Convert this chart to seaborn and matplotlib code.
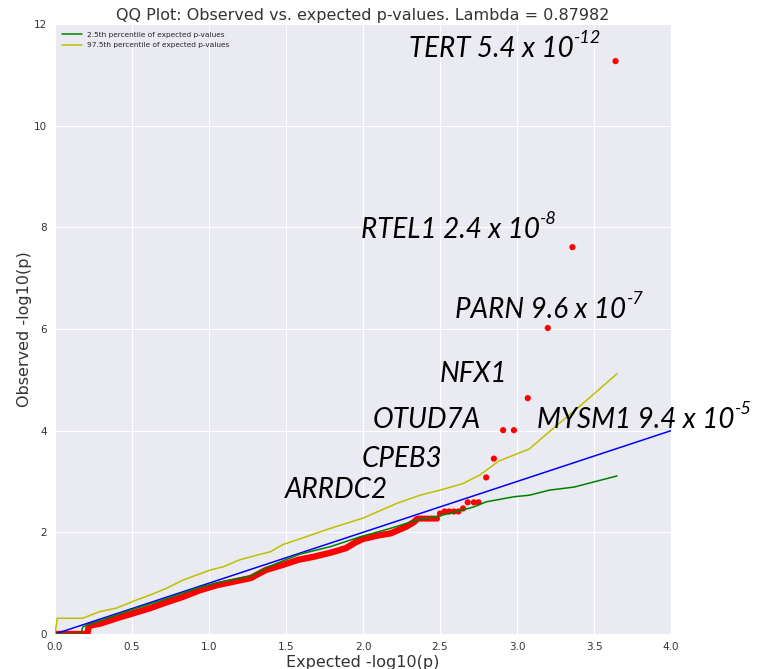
import matplotlib
matplotlib.use("Agg")
import matplotlib.pyplot as plt
import seaborn as sns
import pandas as pd

# ---- data ----
diag_x = [0.0, 4.0]
diag_y = [0.0, 4.0]

bulk_expected = [0.00, 0.21, 0.22, 0.30, 0.40, 0.50, 0.62, 0.72, 0.83, 0.94, 1.05, 1.16,
                 1.27, 1.37, 1.48, 1.58, 1.68, 1.79, 1.89, 1.95, 2.00, 2.10, 2.18, 2.28,
                 2.33, 2.35]
bulk_observed = [0.00, 0.00, 0.16, 0.21, 0.31, 0.40, 0.51, 0.62, 0.73, 0.86, 0.96, 1.03,
                 1.10, 1.26, 1.36, 1.46, 1.52, 1.60, 1.69, 1.80, 1.87, 1.94, 1.98, 2.11,
                 2.20, 2.26]

tail_expected = [2.36, 2.38, 2.40, 2.42, 2.44, 2.46, 2.48, 2.50, 2.53, 2.56, 2.59, 2.62,
                 2.65, 2.68, 2.72, 2.75, 2.80, 2.85, 2.91, 2.98, 3.07, 3.20, 3.36, 3.64]
tail_observed = [2.27, 2.27, 2.27, 2.27, 2.27, 2.27, 2.27, 2.37, 2.41, 2.41, 2.41, 2.41,
                 2.47, 2.59, 2.59, 2.59, 3.08, 3.45, 4.01, 4.01, 4.64, 6.02, 7.61, 11.27]

lo_expected = [0.00, 0.17, 0.18, 0.30, 0.51, 0.70, 0.94, 1.09, 1.27, 1.37, 1.48, 1.59,
               1.79, 1.98, 2.18, 2.35, 2.48, 2.61, 2.72, 2.80, 2.98, 3.08, 3.21, 3.37, 3.65]
lo_values = [0.00, 0.00, 0.14, 0.27, 0.49, 0.67, 0.92, 1.03, 1.14, 1.30, 1.44, 1.57,
             1.72, 1.91, 2.08, 2.24, 2.31, 2.41, 2.50, 2.60, 2.70, 2.73, 2.83, 2.89, 3.11]

hi_expected = [0.00, 0.015, 0.18, 0.29, 0.40, 0.53, 0.62, 0.725, 0.83, 0.92, 1.01, 1.09,
               1.20, 1.31, 1.40, 1.48, 1.58, 1.79, 2.00, 2.22, 2.37, 2.50, 2.65, 2.76,
               2.88, 3.08, 3.21, 3.43, 3.65]
hi_values = [0.00, 0.31, 0.31, 0.44, 0.51, 0.67, 0.77, 0.90, 1.06, 1.16, 1.26, 1.32,
             1.46, 1.55, 1.62, 1.76, 1.86, 2.08, 2.28, 2.57, 2.73, 2.83, 2.96, 3.13,
             3.40, 3.64, 3.98, 4.54, 5.12]

# gene labels: (text, superscript, x, y baseline)
gene_labels = ["TERT 5.4 x 10", "RTEL1 2.4 x 10", "PARN 9.6 x 10", "NFX1", "OTUD7A",
               "MYSM1 9.4 x 10", "CPEB3", "ARRDC2"]
gene_sup = ["-12", "-8", "-7", "", "", "-5", "", ""]
gene_x = [2.30, 1.99, 2.60, 2.50, 2.06, 3.13, 1.99, 1.49]
gene_y = [11.35, 7.79, 6.22, 4.96, 4.05, 4.05, 3.29, 2.68]

title = "QQ Plot: Observed vs. expected p-values. Lambda = 0.87982"

# ---- plot ----
sns.set_style("darkgrid", {"axes.facecolor": "#EAEAF2", "grid.color": "white"})
plt.rcParams["font.family"] = ["DejaVu Sans"]
plt.rcParams["grid.linewidth"] = 0.8

fig = plt.figure(figsize=(7.59, 6.69), dpi=100)
ax = fig.add_axes([55 / 759, 35 / 669, 616 / 759, 610 / 669])

sns.lineplot(x=bulk_expected, y=bulk_observed, ax=ax, color="red", lw=4.6,
             solid_capstyle="round", solid_joinstyle="round", sort=False, zorder=3)
sns.scatterplot(x=tail_expected, y=tail_observed, ax=ax, color="red", s=20,
                edgecolor="none", zorder=4)
sns.lineplot(x=diag_x, y=diag_y, ax=ax, color="blue", lw=1.1, sort=False, zorder=5)
sns.lineplot(x=lo_expected, y=lo_values, ax=ax, color="green", lw=1.1, sort=False,
             zorder=6, label="2.5th percentile of expected p-values")
sns.lineplot(x=hi_expected, y=hi_values, ax=ax, color="#bfbf00", lw=1.1, sort=False,
             zorder=6, label="97.5th percentile of expected p-values")

ax.set_xlim(0, 4)
ax.set_ylim(0, 12)
ax.set_xticks([0.0, 0.5, 1.0, 1.5, 2.0, 2.5, 3.0, 3.5, 4.0])
ax.set_xticklabels(["0.0", "0.5", "1.0", "1.5", "2.0", "2.5", "3.0", "3.5", "4.0"])
ax.set_yticks([0, 2, 4, 6, 8, 10, 12])
ax.tick_params(labelsize=7.5, colors="#333333", length=0, pad=6)
ax.set_xlabel("Expected -log10(p)", fontsize=11.5, color="#333333", labelpad=2)
ax.set_ylabel("Observed -log10(p)", fontsize=11.5, color="#333333", labelpad=1)
ax.set_title(title, fontsize=11.5, color="#333333", pad=3)
for s in ax.spines.values():
    s.set_visible(False)

leg = ax.legend(loc="upper left", fontsize=5.3, frameon=False, handlelength=2.6,
                borderaxespad=0.6, labelspacing=0.6)

for lab, sup, gx, gy in zip(gene_labels, gene_sup, gene_x, gene_y):
    t = ax.text(gx, gy, lab, fontsize=20, fontstyle="italic", family="Lato",
                color="black", va="baseline", ha="left", clip_on=False, zorder=7)
    if sup:
        ax.annotate(sup, xy=(1.0, 0.72), xycoords=t, fontsize=13, fontstyle="italic",
                    family="Lato", color="black", va="baseline", ha="left",
                    annotation_clip=False, zorder=7)

fig.savefig("out.png", dpi=100)
